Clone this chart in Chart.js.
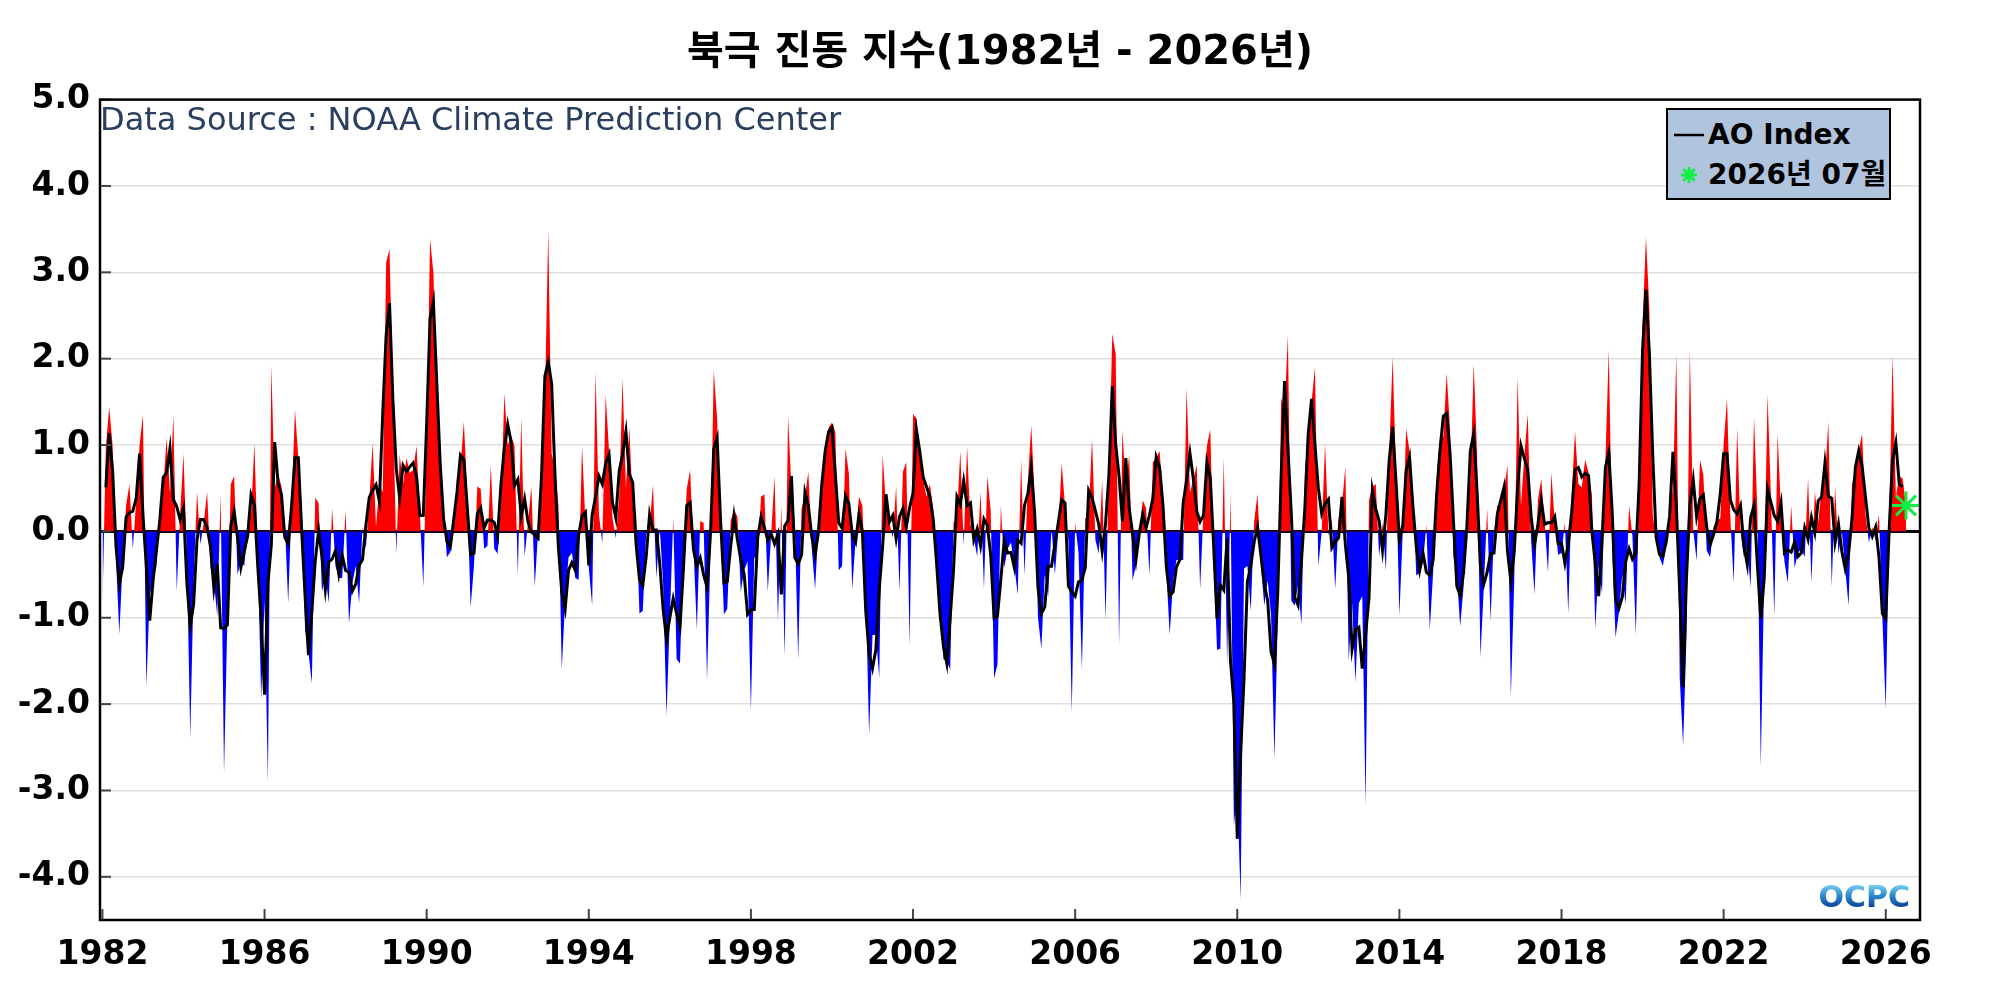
<!DOCTYPE html>
<html>
<head>
<meta charset="utf-8">
<script src="https://cdn.jsdelivr.net/npm/chart.js@4.4.1/dist/chart.umd.min.js"></script>
<style>
  html, body { margin: 0; padding: 0; background: #ffffff; }
  #wrap { position: relative; width: 2000px; height: 1000px; overflow: hidden; }
  #c { display: block; }
  #src { position: absolute; left: 100px; top: 100px; line-height: 38px; font: 32px "DejaVu Sans", sans-serif; color: #2a3f5f; white-space: nowrap; }
  #legend { position: absolute; left: 1666px; top: 108px; width: 225px; height: 92px; box-sizing: border-box;
            background: #b0c4de; border: 2px solid #000; font: bold 28px "DejaVu Sans", "Noto Sans CJK KR", sans-serif; color: #000; }
  .row { position: absolute; left: 0; height: 36px; line-height: 36px; white-space: nowrap; }
  .row .txt { position: absolute; left: 40px; top: 0; }
  .sym { position: absolute; left: 5px; top: 9px; }
</style>
</head>
<body>
<div id="wrap">
  <canvas id="c" width="2000" height="1000"></canvas>
  <div id="src"></div>
  <div id="legend">
    <div class="row" style="top:7px">
      <svg class="sym" width="32" height="18"><line x1="1" y1="9" x2="31" y2="9" stroke="#000" stroke-width="2.5"/></svg>
      <span class="txt" id="lg1"></span>
    </div>
    <div class="row" style="top:47px">
      <svg class="sym" width="32" height="18">
        <g stroke="#11ee44" stroke-width="3">
          <line x1="16" y1="1" x2="16" y2="17"/><line x1="8" y1="9" x2="24" y2="9"/>
          <line x1="10.3" y1="3.3" x2="21.7" y2="14.7"/><line x1="21.7" y1="3.3" x2="10.3" y2="14.7"/>
        </g>
      </svg>
      <span class="txt" id="lg2"></span>
    </div>
  </div>
</div>
<script>
// ---------------- data ----------------
const chartTitle = '북극 진동 지수(1982년 - 2026년)';
const sourceText = 'Data Source : NOAA Climate Prediction Center';
const seriesName = 'AO Index';
const latestLabel = '2026년 07월';
const startYear = 1982;            // first month = Jan 1982
const xTickYears = [1982, 1986, 1990, 1994, 1998, 2002, 2006, 2010, 2014, 2018, 2022, 2026];
const yTickValues = [-4, -3, -2, -1, 0, 1, 2, 3, 4, 5];

// monthly Arctic Oscillation index, Jan 1982 .. Jul 2026 (one row per year)
const aoMonthly = [
  -0.88, 0.97, 1.44, 1.0, -0.3, -1.19, -0.35, 0.3, 0.55, -0.2, 0.35, 1.0,
  1.35, -1.8, -0.75, -0.55, -0.4, 0.3, 0.5, 1.08, 0.45, 1.35, -0.69, 0.2,
  0.9, -0.3, -2.39, -0.6, 0.46, -0.15, 0.1, 0.46, -0.42, -0.58, -0.98, 0.43,
  -2.8, -1.0, 0.55, 0.64, -0.5, -0.35, -0.4, 0.05, 0.2, 1.02, -0.3, -1.95,
  -0.8, -2.92, 1.93, 0.5, 0.67, 0.52, 0.1, -0.83, 0.3, 1.41, 0.85, 0.3,
  -1.14, -1.4, -1.76, 0.39, 0.33, -0.7, -0.5, -0.83, 0.27, -0.4, -0.54, -0.54,
  0.25, -1.07, -0.6, -0.4, -0.83, 0.05, -0.2, 0.36, 1.02, 0.05, 0.55, 0.45,
  3.11, 3.27, 1.55, -0.26, 0.89, 0.55, 0.85, 0.68, 0.71, 0.99, 0.2, -0.64,
  1.0, 3.39, 2.99, 1.6, 0.55, 0.2, -0.3, -0.24, 0.0, 0.64, 0.74, 1.27,
  0.48, -0.88, -0.4, 0.52, 0.49, -0.2, -0.17, 0.77, -0.2, -0.26, 0.3, 1.6,
  1.0, 1.11, 0.99, -0.51, 1.32, -0.29, 0.1, 0.52, -0.64, 0.0, 0.4, 1.5,
  3.49, 0.9, 0.74, 0.3, -1.6, -0.8, -0.3, -0.25, -0.54, -0.56, 0.99, 0.1,
  -0.42, -0.86, 1.86, 0.2, -0.14, 1.58, 0.93, 0.16, -0.08, 0.4, 1.77, 0.5,
  1.2, 0.3, 0.2, -0.95, -0.92, 0.0, 0.05, 0.54, -0.54, 0.05, -0.6, -2.14,
  -1.0, 0.15, -1.48, -1.53, -0.3, 0.49, 0.71, -0.2, -1.14, 0.12, 0.1, -1.73,
  -0.3, 1.87, 1.3, 0.07, -0.96, -0.9, 0.12, 0.25, 0.17, -0.7, -0.45, -0.35,
  -2.08, -0.3, -0.33, 0.4, 0.43, -0.7, -0.03, 0.64, -1.04, 0.3, -1.45, 1.34,
  0.49, 0.09, -1.49, 0.27, 0.4, 0.69, -0.19, -0.67, 0.05, 0.6, 1.0, 1.2,
  1.26, 1.15, -0.45, -0.4, 0.96, 0.67, -0.67, -0.1, 0.4, 0.3, -0.7, -2.36,
  -1.2, -1.2, -1.7, 0.89, 0.3, 0.1, -0.07, 0.52, -0.7, 0.69, 0.8, -1.33,
  1.36, 1.3, 0.88, 0.6, 0.4, 0.55, 0.25, -0.4, -1.0, -1.48, -1.5, -1.6,
  0.1, 0.17, 0.93, -0.17, 0.99, 0.08, -0.08, -0.29, 0.46, -0.67, 0.64, 0.24,
  -1.7, -1.54, 0.3, -0.42, -0.2, -0.13, -0.4, -0.73, 0.83, -0.51, 0.58, 1.23,
  0.41, -1.0, -1.36, -0.5, -0.76, 0.05, -0.5, 0.0, 0.79, 0.3, -0.1, -2.1,
  0.1, -0.25, -1.6, 0.15, 0.2, 1.07, -0.1, -0.26, 0.6, -1.03, 0.7, 2.29,
  2.05, -1.31, 1.18, 0.48, 0.89, -0.57, -0.39, -0.03, 0.36, 0.27, -0.51, 0.8,
  0.85, 0.93, 0.44, -0.47, -1.2, -0.57, -0.33, -0.33, -0.33, 1.66, 0.45, 0.6,
  0.77, -0.67, 0.24, 0.99, 1.18, -0.3, -1.37, -1.36, 0.86, -1.54, 0.44, -3.41,
  -3.0, -4.27, -0.43, -0.4, -0.92, 0.12, 0.43, -0.4, -0.86, -0.57, -0.97, -2.64,
  -1.0, 1.55, 1.4, 2.27, -0.8, -0.86, -0.62, -1.08, 0.67, 1.2, 1.5, 1.9,
  -0.4, 0.0, 1.02, -0.05, 0.15, -0.67, 0.15, 0.3, 0.75, -1.51, -0.83, -1.75,
  -0.83, -0.75, -3.19, 0.36, 0.52, 0.55, -0.29, 0.1, -0.46, 0.93, 2.02, 0.68,
  -0.98, 0.0, 1.19, 0.93, 0.46, -0.51, -0.48, -0.36, 0.08, -1.14, -0.47, 0.62,
  1.08, 1.09, 1.83, 1.18, -0.3, -0.5, -1.1, -0.64, 0.3, 0.55, 1.94, 0.9,
  -1.46, -0.64, 0.27, -1.04, -0.01, 0.3, 0.31, 0.47, 0.77, -1.92, -0.59, 1.79,
  0.3, 0.88, 1.36, -0.1, -0.73, 0.36, 0.61, 0.11, -0.48, 0.68, 0.1, -0.27,
  -0.25, 0.1, -0.95, 0.43, 1.16, 0.55, 0.51, 0.83, 0.68, 0.43, -1.13, -0.4,
  -0.72, 0.83, 2.11, -0.2, -1.23, -0.94, -0.5, -0.84, 0.3, -0.06, -1.2, 0.5,
  2.4, 3.41, 2.59, 0.2, -0.1, -0.3, -0.4, -0.17, 0.2, 0.5, 2.06, -1.7,
  -2.48, -1.22, 2.1, 0.02, -0.34, 0.83, 0.65, -0.22, -0.3, 0.05, 0.13, 0.15,
  1.01, 1.54, 0.15, -0.6, 1.2, 0.0, -0.3, -0.2, -0.65, 1.33, 0.22, -2.73,
  -0.52, 1.59, 0.4, -0.98, 1.13, 0.2, -0.35, -0.6, 0.3, -0.42, -0.25, -0.2,
  -0.3, 0.62, -0.6, 0.46, 0.1, 0.5, 0.6, 1.27, -0.64, 0.52, -0.26, 0.0,
  -0.44, -0.86, 0.55, 0.74, 0.93, 1.13, 0.2, -0.13, 0.05, -0.1, 0.2, -1.0,
  -2.06, 0.03, 2.04, 0.4, 0.64, 0.61, 0.3
];

// ---------------- build library data ----------------
const monthX = aoMonthly.map((v, i) => startYear + i / 12);
const monthlyPoints = aoMonthly.map((v, i) => ({ x: monthX[i], y: v }));
// black "AO Index" line = centred 3-month running mean of the monthly values above
const meanPoints = [];
for (let i = 1; i < aoMonthly.length - 1; i++) {
  meanPoints.push({ x: monthX[i], y: (aoMonthly[i - 1] + aoMonthly[i] + aoMonthly[i + 1]) / 3 });
}
const last = aoMonthly.length - 1;
const latestPoint = [{ x: monthX[last], y: aoMonthly[last] }];

document.getElementById('src').textContent = sourceText;
document.getElementById('lg1').textContent = seriesName;
document.getElementById('lg2').textContent = latestLabel;

const tickFont = { family: '"DejaVu Sans", sans-serif', size: 33, weight: 'bold' };

const framePlugin = {
  id: 'frame',
  afterDraw(chart) {
    const { ctx, chartArea: a, scales: { x, y } } = chart;
    ctx.save();
    ctx.strokeStyle = '#444';
    ctx.lineWidth = 2;
    yTickValues.forEach(v => {
      const py = y.getPixelForValue(v);
      ctx.beginPath(); ctx.moveTo(a.left, py); ctx.lineTo(a.left + 11, py); ctx.stroke();
    });
    xTickYears.forEach(v => {
      const px = x.getPixelForValue(v);
      ctx.beginPath(); ctx.moveTo(px, a.bottom); ctx.lineTo(px, a.bottom - 11); ctx.stroke();
    });
    ctx.strokeStyle = '#000';
    ctx.lineWidth = 2.5;
    ctx.strokeRect(a.left, a.top, a.right - a.left, a.bottom - a.top);
    // CPC logo, bottom-right corner of the plot
    const g = ctx.createLinearGradient(0, a.bottom - 38, 0, a.bottom - 12);
    g.addColorStop(0, '#8fe0f5');
    g.addColorStop(0.5, '#2f8fd0');
    g.addColorStop(1, '#0a3a96');
    ctx.fillStyle = g;
    ctx.font = 'bold 30px "DejaVu Sans", sans-serif';
    ctx.textAlign = 'right';
    ctx.textBaseline = 'alphabetic';
    ctx.fillText('OCPC', a.right - 10, a.bottom - 13);
    ctx.restore();
  }
};

new Chart(document.getElementById('c').getContext('2d'), {
  type: 'line',
  data: {
    datasets: [
      {
        label: latestLabel,
        data: latestPoint,
        showLine: false,
        pointStyle: 'star',
        pointRadius: 14,
        pointBorderWidth: 3,
        pointBorderColor: '#11ee44',
        pointBackgroundColor: '#11ee44',
        clip: false,
        order: 0
      },
      {
        label: seriesName,
        data: meanPoints,
        borderColor: '#000000',
        borderWidth: 3,
        pointRadius: 0,
        fill: false,
        order: 1
      },
      {
        label: 'monthly',
        data: monthlyPoints,
        borderColor: 'rgba(0,0,0,0)',
        borderWidth: 0,
        pointRadius: 0,
        fill: { target: { value: 0 }, above: '#ff0000', below: '#0000ff' },
        order: 2
      }
    ]
  },
  options: {
    responsive: false,
    animation: false,
    devicePixelRatio: 1,
    parsing: false,
    layout: { padding: { left: 0, right: 0, top: 0, bottom: 0 } },
    plugins: {
      legend: { display: false },
      tooltip: { enabled: false },
      title: {
        display: true,
        text: chartTitle,
        color: '#000',
        font: { family: '"DejaVu Sans", "Noto Sans CJK KR", sans-serif', size: 40, weight: 'bold' },
        padding: { top: 30, bottom: 21.6 }
      }
    },
    scales: {
      x: {
        type: 'linear',
        min: 1981.94,
        max: 2026.845,
        afterBuildTicks: s => { s.ticks = xTickYears.map(v => ({ value: v })); },
        afterFit: s => { s.height = 80; },
        grid: { display: false, drawTicks: false },
        border: { display: false },
        ticks: { autoSkip: false, maxRotation: 0, padding: 16, color: '#000', font: tickFont, callback: v => String(v) }
      },
      y: {
        min: -4.5,
        max: 5,
        afterBuildTicks: s => { s.ticks = yTickValues.map(v => ({ value: v })); },
        afterFit: s => { s.width = 100; },
        grid: {
          drawTicks: false,
          color: c => (c.tick && c.tick.value === 0) ? '#000000' : '#dedede',
          lineWidth: c => (c.tick && c.tick.value === 0) ? 3 : 1.5
        },
        border: { display: false },
        ticks: { padding: 10, color: '#000', font: tickFont, callback: v => Number(v).toFixed(1) }
      },
      ySpacer: {
        position: 'right',
        display: true,
        min: 0,
        max: 1,
        afterFit: s => { s.width = 80; },
        grid: { display: false, drawTicks: false },
        border: { display: false },
        ticks: { display: false }
      }
    }
  },
  plugins: [framePlugin]
});
</script>
</body>
</html>
